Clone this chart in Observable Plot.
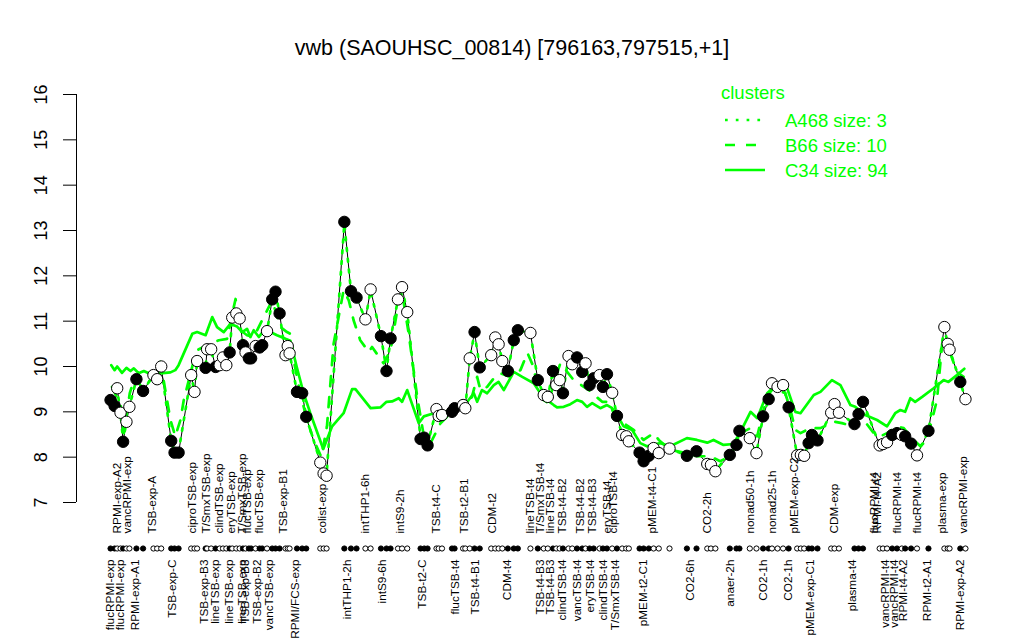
<!DOCTYPE html>
<html><head><meta charset="utf-8">
<script src="https://cdn.jsdelivr.net/npm/d3@7"></script>
<script src="https://cdn.jsdelivr.net/npm/@observablehq/plot@0.6"></script>
<style>
body{margin:0;background:#fff;}
#wrap{position:relative;width:1024px;height:640px;font-family:"Liberation Sans",Arial,Helvetica,sans-serif;}
#legend{position:absolute;left:0;top:0;pointer-events:none;}
</style></head><body><div id="wrap"></div>
<script>
const title = "vwb (SAOUHSC_00814) [796163,797515,+1]";
const green = "#00FF00";

// sample order position, expression value, filled(1)/open(0)
const pointPos = [1.1,2.2,2.9,3.8,4.5,5.4,6.2,8.1,9.9,12.7,
13.7,14.8,17.5,18.4,19.5,22.9,23.8,24.5,26.8,27.2,
28.3,29.5,30.6,31.5,32.4,33.3,34.0,35.1,36.0,36.9,
37.6,38.5,39.1,40.3,41.4,42.1,43.4,44.8,45.7,46.8,
48.4,49.0,49.5,51.5,52.9,54.0,57.8,58.7,59.5,64.3,
66.1,67.6,70.0,71.4,74.2,75.7,76.8,78.8,79.9,81.3,
84.9,85.9,86.8,89.2,89.8,90.7,93.4,94.1,96.4,97.0,
98.2,99.5,100.9,104.0,105.1,106.0,107.0,108.5,110.1,111.2,
114.6,116.6,118.2,119.3,120.7,121.6,122.5,123.4,124.9,125.9,
127.2,128.6,129.5,130.6,131.7,133.3,134.2,135.3,136.7,138.0,
139.4,140.5,141.2,144.1,145.2,146.6,147.9,149.3,152.2,156.9,
159.5,162.4,163.4,164.6,168.5,170.3,171.1,173.9,175.7,177.5,
179.0,179.9,181.4,182.9,184.4,186.7,187.7,188.6,189.8,190.7,
192.2,195.9,196.8,198.0,202.2,203.3,204.5,209.0,209.9,211.0,
212.4,213.7,215.0,215.9,217.5,219.1,222.2,226.5,227.4,227.9,
230.8,232.2];
const pointVal = [9.26,9.13,9.52,8.98,8.34,8.78,9.11,9.72,9.46,9.81,
9.72,10.0,8.36,8.10,8.10,9.81,9.44,10.12,9.97,10.38,
10.38,9.99,10.03,10.2,10.03,10.31,11.08,11.17,11.06,10.47,
10.31,10.18,10.18,10.45,10.42,10.47,10.78,11.48,11.65,11.17,
10.25,10.45,10.29,9.44,9.41,8.89,7.88,7.64,7.59,13.19,
11.66,11.52,11.04,11.70,10.67,9.90,10.62,11.48,11.75,11.20,
8.40,8.43,8.26,9.06,8.91,8.93,9.00,9.08,9.15,9.08,
10.18,10.76,9.98,10.25,10.64,10.49,10.12,9.90,10.58,10.80,
10.74,9.70,9.37,9.33,9.90,9.59,9.70,9.41,10.23,10.05,
10.20,9.88,10.07,9.59,9.74,9.81,9.55,9.83,9.42,8.91,
8.49,8.46,8.35,8.10,7.91,8.03,8.20,8.09,8.19,8.03,
8.13,7.85,7.83,7.69,8.05,8.27,8.58,8.42,8.09,8.90,
9.28,9.63,9.55,9.59,9.10,8.04,8.05,8.03,8.31,8.49,
8.37,8.98,9.17,8.98,8.73,8.95,9.22,8.26,8.29,8.33,
8.49,8.53,8.49,8.46,8.30,8.04,8.58,10.87,10.50,10.37,
9.66,9.28];
const pointFilled = [1,1,0,0,1,0,0,1,1,0,
0,0,1,1,1,0,0,0,1,0,
0,1,0,0,0,1,0,0,0,1,
0,1,1,0,1,1,0,1,1,1,
0,0,0,1,1,1,0,0,0,1,
1,1,0,0,1,1,1,0,0,0,
1,1,1,0,0,0,1,1,0,0,
0,1,1,0,0,0,0,1,1,1,
0,1,0,0,1,0,0,1,0,0,
1,1,0,1,1,0,1,1,0,1,
0,0,0,1,1,1,0,0,0,1,
1,0,0,0,1,1,1,0,0,1,
1,0,0,0,1,0,0,0,1,1,
1,0,0,0,1,1,1,0,0,0,
1,1,0,1,1,0,1,0,0,0,
1,0];

// cluster A468 (dotted), read at the sample positions
const dottedVal = [9.26,9.13,9.50,8.98,8.36,8.78,9.11,9.72,9.46,9.81,
9.72,10.0,8.36,8.12,8.12,9.81,9.44,10.12,9.97,10.36,
10.36,9.99,10.03,10.2,10.03,10.31,11.10,11.20,11.06,10.47,
10.31,10.18,10.18,10.45,10.42,10.47,10.78,11.46,11.62,11.17,
10.25,10.45,10.29,9.44,9.41,8.89,7.90,7.66,7.62,13.15,
11.66,11.52,11.04,11.68,10.67,9.92,10.62,11.48,11.73,11.20,
8.42,8.43,8.28,9.06,8.91,8.93,9.00,9.08,9.15,9.08,
10.18,10.74,9.98,10.25,10.64,10.49,10.12,9.90,10.58,10.80,
10.74,9.70,9.37,9.33,9.90,9.59,9.70,9.41,10.23,10.05,
10.20,9.88,10.07,9.59,9.74,9.81,9.55,9.83,9.42,8.91,
8.49,8.46,8.35,8.10,7.93,8.03,8.20,8.09,8.19,8.03,
8.13,7.85,7.83,7.71,8.05,8.27,8.58,8.42,8.09,8.90,
9.28,9.63,9.55,9.59,9.10,8.04,8.05,8.03,8.31,8.49,
8.37,8.98,9.17,8.98,8.73,8.95,9.22,8.26,8.29,8.33,
8.49,8.53,8.49,8.46,8.30,8.06,8.58,10.85,10.50,10.37,
9.66,9.28];

// cluster B66 (dashed)
const dashedPos = [1.5,3.8,4.7,6.3,7.4,8.1,10.0,12.7,14.6,17.3,18.6,20.0,20.9,23.2,24.5,27.2,30.4,32.6,34.0,34.9,
36.2,38.0,39.8,42.5,44.8,47.0,48.8,49.7,50.6,52.4,54.2,56.0,58.1,59.6,61.4,64.1,65.5,66.8,68.6,70.9,
71.8,74.9,76.8,78.6,79.9,81.7,84.0,85.8,87.6,90.3,93.9,96.6,98.8,100.2,101.1,102.9,104.7,106.5,109.2,111.9,
113.8,115.4,116.5,118.2,119.5,120.9,122.7,126.3,127.6,130.4,134.0,135.8,137.1,139.8,142.5,145.2,147.9,149.3,152.4,156.9,
159.6,163.2,165.9,168.6,171.4,174.1,175.9,177.6,179.0,180.4,183.5,184.9,186.2,187.6,190.3,193.0,194.8,197.0,198.8,202.0,
203.3,204.7,207.4,209.2,211.0,213.7,215.5,217.3,220.0,221.8,224.5,225.9,226.8,228.1,229.9,231.7];
const dashedVal = [9.55,9.15,8.53,9.41,9.70,9.70,9.50,9.80,10.10,8.82,8.46,8.82,9.26,10.0,10.36,10.47,10.58,10.61,11.16,11.49,
10.80,10.69,10.65,11.09,11.46,10.87,10.76,10.72,10.14,9.41,8.82,8.38,8.00,8.68,10.50,11.68,11.46,11.02,10.58,10.32,
10.43,10.07,10.36,11.24,11.64,10.72,9.33,8.46,8.31,8.75,9.04,9.11,9.33,9.77,9.48,9.55,9.74,9.85,9.77,9.92,
10.30,10.00,9.55,9.26,9.19,9.63,10.07,9.70,9.63,9.48,9.22,9.22,8.97,8.75,8.60,8.38,8.53,8.38,8.16,8.09,
8.02,8.02,7.91,8.02,8.53,8.64,8.46,9.04,9.41,9.52,9.41,9.04,8.60,8.53,8.64,8.64,8.71,8.78,8.75,8.68,
8.90,8.82,8.53,8.46,8.53,8.68,8.64,8.46,8.24,8.38,9.26,10.50,10.36,10.29,9.88,9.77];

// cluster C34 (solid)
const solidPos = [1.3,2.2,2.9,4.2,5.4,6.5,7.4,8.7,10.1,11.4,14.6,17.3,18.6,19.5,23.2,24.5,26.8,28.6,29.9,31.7,
33.5,35.3,36.7,38.0,38.9,39.8,41.2,42.5,44.3,46.1,48.4,49.7,51.4,53.3,55.1,58.6,61.0,64.1,66.4,67.3,
71.4,74.1,75.7,77.2,79.0,79.9,81.3,84.4,85.8,88.5,91.2,93.4,96.6,97.9,99.3,100.2,101.5,102.9,104.7,106.0,
107.4,110.1,112.4,115.5,117.3,119.1,120.9,121.8,123.6,125.4,127.2,128.6,129.9,131.3,133.5,135.3,136.7,138.0,139.8,142.1,
144.3,146.1,149.7,152.4,156.9,159.6,162.4,164.1,166.8,169.5,171.4,174.1,175.9,178.6,180.4,184.0,186.2,187.6,191.2,193.0,
196.1,198.4,201.1,202.4,205.1,208.3,211.0,213.2,214.6,215.9,217.3,218.6,220.5,223.6,226.3,227.6,229.9,231.9];
const solidVal = [10.03,9.92,10.0,9.86,9.97,9.90,9.96,9.85,9.90,9.85,9.85,9.87,9.92,10.03,10.72,10.76,10.69,11.09,10.87,10.76,
10.94,10.88,10.76,10.83,10.65,10.80,10.65,10.79,10.76,10.69,10.61,10.57,10.0,9.41,8.97,8.18,8.68,8.97,9.50,9.50,
9.08,9.10,9.22,9.23,9.30,9.22,9.48,8.75,8.90,8.97,8.97,9.08,9.11,9.26,9.41,9.22,9.48,9.41,9.59,9.66,
9.48,9.88,9.77,9.63,9.41,9.26,9.15,9.10,9.11,9.17,9.26,9.22,9.11,9.19,9.08,9.15,9.08,8.93,8.68,8.60,
8.31,8.24,8.31,8.24,8.42,8.38,8.32,8.38,8.27,8.29,8.56,9.00,8.86,9.41,9.55,9.52,9.00,8.97,9.37,9.44,
9.70,9.59,9.15,9.11,8.93,8.82,8.68,8.97,9.04,9.00,9.30,9.22,9.33,9.52,9.70,9.66,9.81,9.95];

// sample labels (upper row and lower row)
const topLabels = ["RPMI-exp-A2","vancRPMI-exp","TSB-exp-A","ciproTSB-exp","T/SmxTSB-exp","clindTSB-exp","eryTSB-exp","T/SmxTSB-exp","flucTSB-exp","flucTSB-exp",
"TSB-exp-B1","colist-exp","intTHP1-6h","intS9-2h","TSB-t4-C","TSB-t2-B1","CDM-t2","lineTSB-t4","T/SmxTSB-t4","lineTSB-t4",
"TSB-t4-B2","TSB-t4-B2","TSB-t4-B3","eryTSB-t4","ciproTSB-t4","pMEM-t4-C1","CO2-2h","nonad50-1h","nonad25-1h","pMEM-exp-C2",
"CDM-exp","flucRPMI-t4","RPMI-t4-A2","flucRPMI-t4","flucRPMI-t4","plasma-exp","vancRPMI-exp"];
const topLabelPos = [3.0,5.7,12.4,23.2,27.0,30.4,33.8,36.7,38.1,41.2,
47.9,58.3,70.0,79.5,89.2,96.8,104.3,114.6,117.3,120.0,
123.2,128.1,131.3,135.3,137.0,147.5,162.4,174.1,179.9,185.8,
196.6,207.4,208.3,213.7,219.1,225.9,231.7];
const bottomLabels = ["flucRPMI-exp","flucRPMI-exp","RPMI-exp-A1","TSB-exp-C","TSB-exp-B3","lineTSB-exp","lineTSB-exp","lineTSB-exp","TSB-exp-B3","TSB-exp-B2",
"vancTSB-exp","RPMI/FCS-exp","intTHP1-2h","intS9-6h","TSB-t2-C","flucTSB-t4","TSB-t4-B1","CDM-t4","TSB-t4-B3","TSB-t4-B3",
"clindTSB-t4","vancTSB-t4","eryTSB-t4","clindTSB-t4","T/SmxTSB-t4","pMEM-t2-C1","CO2-6h","anaer-2h","CO2-1h","CO2-1h",
"pMEM-exp-C1","plasma-t4","vancRPMI-t4","vancRPMI-t4","RPMI-t4-A2","RPMI-t2-A1","RPMI-exp-A2"];
const bottomLabelPos = [1.0,3.8,7.8,17.8,26.3,29.5,33.1,36.7,37.4,40.7,
43.9,51.1,65.1,74.5,85.3,94.3,99.7,108.3,117.3,120.0,
123.2,127.2,130.8,134.4,137.6,145.2,157.8,168.6,177.6,184.4,
190.3,201.5,210.5,213.0,215.5,221.8,230.8];

const yTicks = [7,8,9,10,11,12,13,14,15,16];
const xDomain = [-8.1, 241.4];
const legendTitle = "clusters";
const clusterNames = ["A468 size: 3","B66 size: 10","C34 size: 94"];
const clusterDash = ["2.7,8.1","10,11",null];

const points = pointPos.map((p,i)=>({pos:p, val:pointVal[i], filled:pointFilled[i]}));
const dotted = pointPos.map((p,i)=>({pos:p, val:dottedVal[i]}));
const dashed = dashedPos.map((p,i)=>({pos:p, val:dashedVal[i]}));
const solid = solidPos.map((p,i)=>({pos:p, val:solidVal[i]}));
const tops = topLabels.map((t,i)=>({t, pos:topLabelPos[i]}));
const bots = bottomLabels.map((t,i)=>({t, pos:bottomLabelPos[i]}));

const font = '"Liberation Sans", Arial, Helvetica, sans-serif';
const chart = Plot.plot({
  width: 1024, height: 640,
  marginLeft: 76, marginRight: 25, marginTop: 94, marginBottom: 138,
  x: {domain: xDomain, axis: null},
  y: {domain: [7, 16], axis: null},
  style: {fontFamily: font, background: "white", overflow: "visible"},
  marks: [
    Plot.ruleX([xDomain[0]], {y1: 7, y2: 16, stroke: "black", strokeWidth: 1}),
    Plot.axisY({ticks: yTicks, tickSize: 13, tickFormat: () => "", label: null, stroke: "black", strokeWidth: 1}),
    Plot.text(yTicks, {y: d => d, text: d => String(d), frameAnchor: "left", dx: -35, rotate: -90, lineAnchor: "middle", textAnchor: "middle", fontSize: 18, fill: "black"}),
    Plot.line(points, {x: "pos", y: "val", stroke: "black", strokeWidth: 1}),
    Plot.line(dotted, {x: "pos", y: "val", stroke: green, strokeWidth: 2.7, strokeDasharray: clusterDash[0]}),
    Plot.line(dashed, {x: "pos", y: "val", stroke: green, strokeWidth: 2.7, strokeDasharray: clusterDash[1]}),
    Plot.line(solid, {x: "pos", y: "val", stroke: green, strokeWidth: 2.7}),
    Plot.dot(points, {x: "pos", y: "val", r: 5.7, fill: d => d.filled ? "black" : "white", stroke: "black", strokeWidth: 1}),
    Plot.dot(points, {x: "pos", frameAnchor: "bottom", dy: 46, r: 2.6, fill: d => d.filled ? "black" : "white", stroke: "black", strokeWidth: 1}),
    Plot.text(tops, {x: "pos", text: "t", frameAnchor: "bottom", dy: 31, rotate: -90, textAnchor: "start", lineAnchor: "middle", fontSize: 11.8, fill: "black"}),
    Plot.text(bots, {x: "pos", text: "t", frameAnchor: "bottom", dy: 57, rotate: -90, textAnchor: "end", lineAnchor: "middle", fontSize: 11.8, fill: "black"}),
    Plot.text([title], {frameAnchor: "top", dx: -26, dy: -46, lineAnchor: "middle", fontSize: 21.5, fill: "black"})
  ]
});
const wrap = document.getElementById("wrap");
wrap.appendChild(chart);

// legend overlay
const lg = d3.select(wrap).append("svg").attr("id","legend").attr("width",1024).attr("height",640)
  .style("font-family", font);
lg.append("text").attr("x",721).attr("y",92).attr("dominant-baseline","central")
  .attr("font-size",18.5).attr("fill",green).text(legendTitle);
clusterNames.forEach((name,i) => {
  const y = 120 + i*25;
  const ln = lg.append("line").attr("x1",725).attr("x2",765).attr("y1",y).attr("y2",y)
    .attr("stroke",green).attr("stroke-width",2.7);
  if (clusterDash[i]) ln.attr("stroke-dasharray",clusterDash[i]);
  lg.append("text").attr("x",785).attr("y",y).attr("dominant-baseline","central")
    .attr("font-size",18.5).attr("fill",green).text(name);
});
</script></body></html>
